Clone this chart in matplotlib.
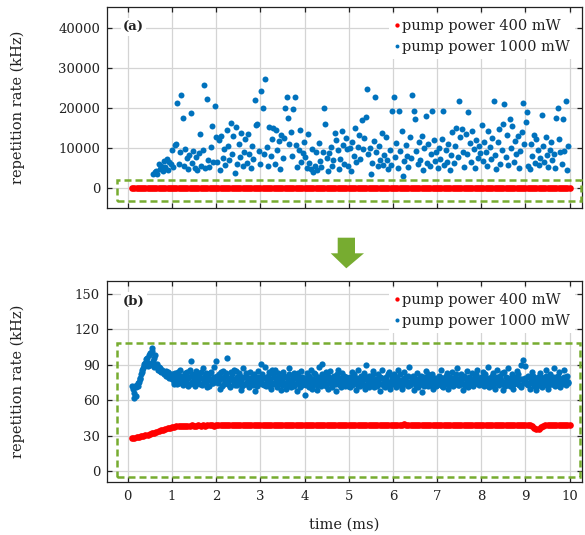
import matplotlib
matplotlib.use("Agg")
import matplotlib.pyplot as plt
import numpy as np
from matplotlib.patches import Polygon, Rectangle

plt.rcParams["font.family"] = ["DejaVu Serif"]

BLUE = "#0072BD"
RED = "#FF0000"
GREEN = "#77AC30"

T_START = 0.10
T_END = 9.97
T_START_A = 0.58

# (a) 1000 mW, kHz
blue_a = [
    3600, 3900, 4200, 3500, 6100, 4800, 5600, 4300, 6800, 5200, 7200, 4600, 6400, 5900,
    9400, 5200, 10800, 11000, 21300, 6000, 8900, 23200, 17400, 5600, 9800, 7400, 4800, 8300,
    18700, 6200, 9200, 5100, 7700, 4500, 8800, 13500, 5500, 9600, 25700, 4900, 22200, 7000,
    5300, 10200, 15600, 6400, 20500, 12800,
    6600, 11900, 4400, 13100, 7600, 9700, 5800, 14600, 10400, 6900, 16200, 8400, 12900, 3700,
    15300, 5900, 10900, 7800, 13700, 5400, 9100, 12200, 6300, 13500, 8600, 4900, 10500, 7200,
    22000, 15700, 16000, 9300, 6000,
    24200, 19900, 8600, 27100, 10300, 5400, 15200, 8100, 12300, 15000, 6000, 14400, 9500, 11800,
    4700, 13300, 7600, 12600, 20100, 22800, 17600, 11000, 14000, 7900, 19700, 22700, 10800, 5200,
    9400, 14600, 6500, 8800, 11400,
    7700, 5100, 13600, 6200, 4700, 9700, 3900, 5500, 8900, 4600, 11300, 6800, 5300, 9100,
    19900, 16100, 7400, 4200, 8700, 10300, 5600, 6900, 13700, 11900, 9400, 4800, 7300, 14300,
    10700, 6100, 12400, 9800, 5400,
    9900, 4300, 11400, 8000, 15100, 6400, 10200, 13200, 7200, 16900, 9800, 12400, 17700, 24700,
    8600, 10100, 3600, 6200, 11800, 22600, 8900, 5500, 10500, 7000, 13800, 5700, 8300, 12800,
    6900, 4800, 9600, 5800, 19300,
    22800, 7800, 11300, 5000, 19300, 9200, 14200, 3100, 6700, 10700, 8100, 5300, 12800, 7400,
    23200, 19300, 17300, 9300, 5900, 11600, 7000, 13100, 4600, 9900, 18000, 6300, 10900, 5400,
    8400, 19300, 12100, 6800, 9000,
    4900, 10100, 7200, 12300, 19300, 5800, 9500, 6600, 11000, 4500, 8200, 13900, 6200, 10600,
    15100, 7800, 21800, 12700, 14800, 9100, 5200, 13400, 8600, 18900, 11200, 6400, 14200, 9800,
    4900, 12000, 7500, 10400, 8800,
    15700, 6800, 11600, 9000, 5400, 14300, 10300, 7300, 12500, 21700, 8300, 4700, 11400, 14800,
    6100, 9600, 16000, 20900, 7800, 13200, 5800, 17300, 10000, 15500, 6500, 11800, 8500, 12900,
    5100, 9200, 14000, 21200, 10900,
    16400, 18900, 5500, 4800, 11000, 8000, 13200, 6200, 12200, 9600, 5700, 7500, 18300, 10400,
    6400, 12700, 8200, 5200, 9500, 11500, 7100, 8600, 5000, 17400, 20100, 12300, 8900, 6000,
    17300, 9300, 21700, 4600, 10600,
]

# (b) 1000 mW, kHz - first pass of samples
blue_b = [
    72, 62, 72, 64, 72, 76, 79, 84, 87, 91, 90, 96, 89, 100, 91, 104, 88, 98, 89, 87,
    88, 85, 86, 84, 83, 85, 81, 84, 80, 82,
    79, 74, 83, 77, 81, 75, 86, 78, 73, 80, 76, 84, 79, 74, 93, 82, 77, 72, 85, 78,
    81, 74, 79, 87, 76, 83, 71, 80, 77, 84, 75, 88, 79,
    93, 76, 82, 70, 79, 85, 74, 81, 96, 77, 72, 84, 78, 86, 73, 80, 75, 83, 69, 79,
    87, 74, 81, 76, 71, 84, 78, 73, 82, 68, 77, 85, 75,
    91, 74, 80, 88, 72, 79, 84, 76, 70, 82, 75, 86, 73, 78, 81, 69, 77, 84, 74, 80,
    72, 87, 76, 71, 79, 83, 74, 68, 81, 76, 85, 73, 78,
    65, 76, 83, 71, 79, 86, 73, 77, 82, 69, 75, 88, 72, 91, 80, 74, 84, 70, 78, 85,
    73, 76, 81, 68, 79, 86, 74, 71, 83, 77, 72, 80, 75,
    78, 71, 84, 74, 80, 69, 77, 86, 72, 79, 75, 83, 70, 90, 76, 81, 73, 78, 85, 71,
    77, 74, 82, 68, 79, 86, 72, 76, 80, 73, 84, 70, 77,
    76, 82, 71, 79, 86, 73, 77, 70, 84, 75, 80, 72, 88, 74, 78, 81, 69, 76, 83, 71,
    79, 74, 67, 80, 77, 85, 72, 78, 74, 82, 70, 79, 76,
    73, 81, 77, 86, 71, 79, 74, 83, 70, 78, 76, 84, 72, 80, 75, 87, 73, 77, 82, 69,
    79, 74, 85, 71, 78, 76, 83, 72, 80, 75, 86, 73, 79,
    77, 84, 72, 80, 75, 88, 71, 79, 74, 83, 70, 78, 86, 73, 81, 76, 69, 84, 72, 79,
    87, 74, 77, 82, 70, 80, 75, 85, 73, 78, 71, 94, 76,
    89, 74, 81, 70, 78, 84, 72, 77, 69, 80, 75, 83, 71, 79, 73, 86, 76, 70, 82, 74,
    78, 87, 72, 80, 75, 84, 71, 77, 79, 86, 73, 81, 76,
]

# (b) 1000 mW, kHz - interleaved second pass
blue_b2 = [
    70, 66, 71, 73, 75, 78, 82, 86, 89, 92, 95, 92, 98, 90, 102, 93, 96, 89, 91, 86,
    87, 84, 85, 82, 84, 81, 83, 79, 81, 78,
    82, 76, 80, 74, 84, 78, 81, 75, 79, 83, 77, 72, 80, 86, 76, 81, 74, 78, 82, 75,
    79, 84, 73, 77, 81, 76, 80, 72, 83, 78, 75, 80, 77,
    81, 75, 78, 84, 72, 80, 76, 83, 74, 79, 71, 82, 77, 75, 85, 73, 78, 81, 76, 72,
    80, 74, 83, 77, 79, 73, 76, 81, 74, 79, 72, 80, 77,
    76, 82, 73, 79, 75, 81, 72, 78, 86, 74, 80, 77, 71, 83, 76, 79, 73, 81, 75, 70,
    78, 82, 74, 77, 80, 72, 79, 75, 83, 71, 77, 80, 74,
    79, 73, 77, 81, 75, 70, 78, 83, 76, 73, 80, 77, 74, 82, 76, 79, 72, 81, 75, 78,
    71, 80, 77, 74, 82, 76, 73, 79, 75, 81, 74, 78, 72,
    75, 80, 73, 77, 82, 75, 79, 72, 76, 81, 74, 78, 73, 80, 77, 71, 79, 75, 82, 74,
    78, 72, 76, 80, 74, 79, 75, 71, 78, 82, 76, 73, 80,
    74, 78, 80, 73, 76, 82, 75, 71, 79, 77, 74, 81, 76, 73, 79, 75, 80, 72, 77, 78,
    74, 81, 76, 72, 79, 75, 82, 77, 73, 80, 75, 78, 72,
    78, 74, 80, 75, 72, 79, 77, 81, 74, 76, 80, 73, 78, 75, 82, 77, 73, 79, 76, 74,
    81, 72, 78, 76, 80, 74, 77, 73, 79, 82, 75, 77, 74,
    80, 75, 78, 82, 73, 77, 79, 75, 81, 72, 78, 76, 80, 74, 79, 77, 83, 73, 76, 80,
    75, 78, 72, 81, 77, 74, 79, 76, 82, 73, 90, 78, 75,
    79, 76, 73, 80, 75, 78, 81, 74, 77, 72, 79, 76, 80, 74, 78, 75, 81, 73, 77, 79,
    74, 80, 76, 73, 78, 81, 75, 77, 74, 80, 76, 78, 75,
]

# 400 mW, kHz (same data in both panels)
red = [
    28.0, 28.3, 28.7, 29.1, 29.6, 30.1, 30.6, 31.1, 31.6, 32.2,
    32.8, 33.4, 34.0, 34.6, 35.2, 35.8, 36.4, 36.9, 37.3, 37.7,
    38.0,
    38.3, 38.5, 38.4, 38.7, 38.6, 38.5, 38.8, 38.7, 38.6, 38.9,
    38.7, 38.8, 38.6, 38.9, 38.8, 39.0, 38.7, 38.9, 39.0, 38.8,
    38.9, 39.1, 38.8, 39.0, 38.9, 39.2, 38.9, 39.0, 39.1, 38.9,
    39.2, 39.0, 39.1, 39.3, 38.9, 39.1, 39.2, 39.0, 39.3, 39.1,
    39.0, 39.2, 39.4, 39.1, 39.0, 39.3, 39.2, 39.4, 39.1, 39.3,
    39.2, 39.0, 39.3, 39.4, 39.2, 39.1, 39.4, 39.3, 39.0, 39.2,
    39.4, 39.3, 39.1, 39.2, 39.5, 39.3, 39.2, 39.4, 39.1, 39.3,
    39.2, 39.4, 39.3, 39.1, 39.3, 39.2, 39.0, 39.3, 39.4, 39.2,
    39.1, 39.3, 39.2, 39.4, 39.3, 39.1, 39.2, 39.4, 39.3, 39.1,
    39.3, 39.5, 39.4, 39.2, 39.4, 39.6, 39.5, 39.3, 39.5, 39.4,
    39.6, 39.4, 39.7, 39.5, 39.3, 39.5, 39.4, 39.2, 39.4, 39.3,
    39.5, 39.3, 39.1, 39.3, 39.4, 39.2, 39.0, 39.2, 39.3, 39.1,
    39.3, 39.2, 39.0, 39.2, 39.1, 38.9, 39.1, 39.2, 39.0, 39.1,
    38.9, 39.1, 39.0, 39.2, 38.9, 39.0, 39.1, 38.8, 39.0, 39.1,
    38.9, 39.0, 39.2, 38.9, 39.1, 39.0, 38.8, 39.0, 39.1, 38.9,
    39.1, 39.0, 38.9, 39.1, 39.0, 38.8, 39.0, 38.9, 39.1, 38.9,
    38.2, 37.0, 36.0, 36.2, 37.3, 38.4,
    38.8, 39.0, 38.9, 39.1, 38.9, 39.0, 38.8, 39.0, 39.1, 38.9,
    39.0, 38.9,
]

YTICKS_A = [0, 10000, 20000, 30000, 40000]
YTICKS_B = [0, 30, 60, 90, 120, 150]
XTICKS = list(range(0, 11))

t_blue_a = np.linspace(T_START_A, T_END, len(blue_a))
step_b = (T_END - T_START) / (len(blue_b) - 1)
t_blue_b = np.concatenate([
    np.linspace(T_START, T_END, len(blue_b)),
    np.linspace(T_START + step_b / 2, T_END - step_b / 2, len(blue_b2)),
])
v_blue_b = np.concatenate([blue_b, blue_b2])
t_red = np.linspace(0.1, 10.0, len(red))

W, H = 585, 535
fig = plt.figure(figsize=(W / 100, H / 100), dpi=100)
ax_a = fig.add_axes([107 / W, 1 - 208 / H, 475 / W, 201 / H])
ax_b = fig.add_axes([107 / W, 1 - 482 / H, 475 / W, 201 / H])


def style_axes(ax, yticks, ylim, label):
    ax.set_xlim(-0.47, 10.28)
    ax.set_ylim(*ylim)
    ax.set_xticks(XTICKS)
    ax.set_yticks(yticks)
    ax.grid(True, color="#d4d4d4", linewidth=0.9)
    ax.set_axisbelow(True)
    ax.tick_params(direction="in", top=True, right=True, length=3.5,
                   width=0.9, labelsize=9.5, colors="#222222", pad=5)
    ax.tick_params(axis="x", pad=6)
    for sp in ax.spines.values():
        sp.set_linewidth(0.9)
        sp.set_color("#222222")
    ax.set_ylabel("repetition rate (kHz)", fontsize=10.5, color="#222222")
    ax.yaxis.set_label_coords(-0.172, 0.5)
    ax.text(0.033, 0.9, label, transform=ax.transAxes, fontsize=9.5,
            fontweight="bold", va="center", ha="left", color="#222222",
            bbox=dict(facecolor="white", edgecolor="none", pad=1.5))
    leg = ax.legend(loc="upper right", bbox_to_anchor=(1.0, 1.0),
                    fontsize=10.5, frameon=True, framealpha=1,
                    edgecolor="none", facecolor="white", fancybox=False,
                    handlelength=0.4, handletextpad=0.2, borderpad=0.35,
                    labelspacing=0.5, borderaxespad=0.45, markerscale=0.65)
    for txt in leg.get_texts():
        txt.set_color("#222222")


# panel (a)
ax_a.plot(t_red, red, "o", color=RED, markersize=4.8, markeredgewidth=0,
          label="pump power 400 mW")
ax_a.plot(t_blue_a, blue_a, "o", color=BLUE, markersize=4.3,
          markeredgewidth=0, label="pump power 1000 mW")
style_axes(ax_a, YTICKS_A, (-5000, 45200), "(a)")
ax_a.tick_params(axis="x", labelbottom=False)
ax_a.add_patch(Rectangle((-0.25, -3340), 10.5, 5410, fill=False,
                         edgecolor=GREEN, linewidth=1.8,
                         linestyle=(0, (2.8, 1.6)), clip_on=False, zorder=5))

# panel (b)
ax_b.plot(t_red, red, "o", color=RED, markersize=4.8, markeredgewidth=0,
          label="pump power 400 mW")
ax_b.plot(t_blue_b, v_blue_b, "o", color=BLUE, markersize=4.5,
          markeredgewidth=0, label="pump power 1000 mW")
style_axes(ax_b, YTICKS_B, (-9, 161), "(b)")
ax_b.set_xlabel("time (ms)", fontsize=10.5, color="#222222", labelpad=10)
ax_b.add_patch(Rectangle((-0.24, -5.1), 10.47, 113.9, fill=False,
                         edgecolor=GREEN, linewidth=1.8,
                         linestyle=(0, (2.8, 1.6)), clip_on=False, zorder=5))

# green arrow between the panels
arrow_px = [(337.7, 237.7), (355, 237.7), (355, 253.3), (364, 253.3),
            (346.3, 268.3), (330.7, 253.3), (337.7, 253.3)]
fig.patches.append(Polygon([(x / W, 1 - y / H) for x, y in arrow_px],
                           closed=True, facecolor=GREEN, edgecolor="none",
                           transform=fig.transFigure, figure=fig))

fig.savefig("out.png", dpi=100)
